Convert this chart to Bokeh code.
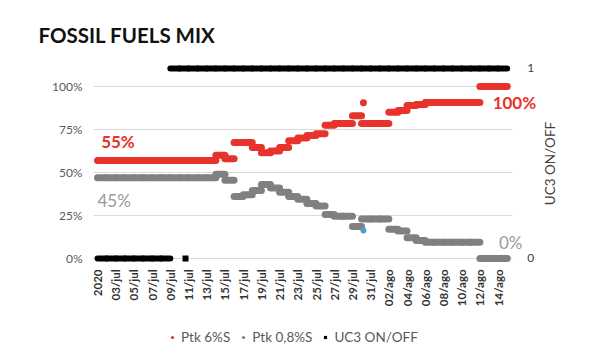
import numpy as np
import pandas as pd
from math import pi
from bokeh.plotting import figure
from bokeh.layouts import column
from bokeh.models import (Range1d, FixedTicker, NumeralTickFormatter,
                          Legend, LegendItem, Label, ColumnDataSource)
from bokeh.core.properties import value
from bokeh.embed import file_html
from bokeh.resources import INLINE

# ---------------- data ----------------
dates = pd.date_range("2020-07-01", periods=45, freq="D")

ptk6 = [0.57, 0.57, 0.57, 0.57, 0.57, 0.57, 0.57, 0.57, 0.57, 0.57,
        0.57, 0.57, 0.57, 0.60, 0.58, 0.675, 0.675, 0.645, 0.615, 0.625,
        0.645, 0.685, 0.70, 0.715, 0.725, 0.775, 0.785, 0.785, 0.83, 0.785,
        0.785, 0.785, 0.85, 0.86, 0.89, 0.895, 0.907, 0.907, 0.907, 0.907,
        0.907, 0.907, 1.0, 1.0, 1.0]

ptk08 = [0.47, 0.47, 0.47, 0.47, 0.47, 0.47, 0.47, 0.47, 0.47, 0.47,
         0.47, 0.47, 0.47, 0.49, 0.455, 0.36, 0.37, 0.395, 0.43, 0.41,
         0.385, 0.36, 0.345, 0.32, 0.305, 0.255, 0.245, 0.245, 0.186, 0.23,
         0.23, 0.23, 0.17, 0.16, 0.12, 0.105, 0.095, 0.095, 0.095, 0.095,
         0.095, 0.095, 0.0, 0.0, 0.0]

uc3 = [0, 0, 0, 0, 0, 0, 0, 0, 1, 1,
       1, 1, 1, 1, 1, 1, 1, 1, 1, 1,
       1, 1, 1, 1, 1, 1, 1, 1, 1, 1,
       1, 1, 1, 1, 1, 1, 1, 1, 1, 1,
       1, 1, 1, 1, 1]

# isolated readings
ptk6_extra_time = ["2020-07-30 05:00"]
ptk6_extra_val = [0.905]
ptk08_extra_time = ["2020-07-30 05:00"]
ptk08_extra_val = [0.163]
uc3_extra_time = ["2020-07-10 16:00"]
uc3_extra_val = [0]

tick_labels = ["2020", "03/jul", "05/jul", "07/jul", "09/jul", "11/jul", "13/jul",
               "15/jul", "17/jul", "19/jul", "21/jul", "23/jul", "25/jul", "27/jul",
               "29/jul", "31/jul", "02/ago", "04/ago", "06/ago", "08/ago", "10/ago",
               "12/ago", "14/ago"]
left_ticks = [0, 0.25, 0.5, 0.75, 1.0]
right_ticks = [0, 1]
right_tick_labels = ["0", "1"]
legend_labels = ["Ptk 6%S", "Ptk 0,8%S", "UC3 ON/OFF"]

# ---------------- helpers ----------------
DAY = 86400000.0
def ms(ts):
    return (pd.DatetimeIndex(ts).as_unit("ns").asi8 // 10**6).astype(float)

x0 = ms(dates)
x1 = x0 + DAY
base = x0[0]
tick_ms = list(x0[::2])

RED = "#e8322c"
GRAY = "#808080"
BLACK = "#000000"
FONT = "Lato"

X_START = base - 0.44 * DAY          # left edge of the plotting area
X_PLOT_END = base + 45.6 * DAY       # right edge of the gridlines
X_END = base + 53.6 * DAY            # right edge incl. right-hand annotations

p = figure(width=592, height=322, x_axis_type="datetime",
           x_range=Range1d(X_START, X_END),
           y_range=Range1d(-0.035, 1.151),
           output_backend="svg", toolbar_location=None,
           min_border_left=93, min_border_right=7,
           min_border_top=60, min_border_bottom=58)
p.extra_y_ranges = {"uc3": Range1d(-0.0316, 1.042)}
p.outline_line_color = None
p.background_fill_color = "white"

# title
p.title.text = "FOSSIL FUELS MIX"
p.title.text_font = FONT
p.title.text_font_size = "20.5px"
p.title.text_font_style = "bold"
p.title.text_color = "#111111"
p.title.align = "left"
p.title.offset = -55
p.title.standoff = 28

# axes
xa = p.xaxis[0]
xa.ticker = FixedTicker(ticks=tick_ms)
xa.major_label_overrides = {t: l for t, l in zip(tick_ms, tick_labels)}
xa.major_label_orientation = pi / 2
xa.axis_line_color = None
xa.major_tick_line_color = None
xa.minor_tick_line_color = None
xa.major_tick_out = 0
xa.minor_tick_out = 0
xa.major_label_text_font = FONT
xa.major_label_text_font_size = "11.5px"
xa.major_label_text_font_style = "bold"
xa.major_label_text_color = "#333333"
xa.major_label_standoff = 5

ya = p.yaxis[0]
ya.ticker = FixedTicker(ticks=left_ticks)
ya.formatter = NumeralTickFormatter(format="0%")
ya.axis_line_color = None
ya.major_tick_line_color = None
ya.minor_tick_line_color = None
ya.major_tick_out = 0
ya.minor_tick_out = 0
ya.major_label_text_font = FONT
ya.major_label_text_font_size = "12px"
ya.major_label_text_color = "#595959"
ya.major_label_standoff = 11

p.grid.visible = False

# gridlines limited to the plotting area
p.segment(x0=[X_START] * len(left_ticks), y0=left_ticks,
          x1=[X_PLOT_END] * len(left_ticks), y1=left_ticks,
          line_color="#d9d9d9", line_width=1)

# right-hand (UC3) scale labels
p.text(x=[base + 47.2 * DAY] * len(right_ticks), y=right_ticks, text=right_tick_labels,
       y_range_name="uc3", text_font=value(FONT), text_font_size="12px",
       text_color="#404040", text_baseline="middle", text_align="left")
p.text(x=[base + 49.66 * DAY], y=[0.552], text=["UC3 ON/OFF"], angle=pi / 2,
       text_font=value(FONT), text_font_size="13.5px", text_color="#404040",
       text_align="center", text_baseline="middle")

# series
src_r = ColumnDataSource(dict(x0=x0, x1=x1, y=ptk6))
src_g = ColumnDataSource(dict(x0=x0, x1=x1, y=ptk08))
src_u = ColumnDataSource(dict(x0=x0, x1=x1, y=uc3))

p.segment("x0", "y", "x1", "y", source=src_u, line_color=BLACK, line_width=6,
          line_cap="round", y_range_name="uc3")
p.segment("x0", "y", "x1", "y", source=src_g, line_color=GRAY, line_width=7,
          line_cap="round")
p.segment("x0", "y", "x1", "y", source=src_r, line_color=RED, line_width=7,
          line_cap="round")

p.scatter(ms(ptk08_extra_time), ptk08_extra_val, marker="circle", size=6,
          fill_color="#4f9fd0", line_color=None)
p.scatter(ms(ptk6_extra_time), ptk6_extra_val, marker="circle", size=7,
          fill_color=RED, line_color=None)
p.scatter(ms(uc3_extra_time), uc3_extra_val, marker="square", size=6,
          fill_color=BLACK, line_color=None, y_range_name="uc3")

# annotations
p.add_layout(Label(x=base + 0.4 * DAY, y=0.68, text="55%", text_color=RED,
                   text_font=FONT, text_font_size="17px", text_font_style="bold",
                   text_baseline="middle"))
p.add_layout(Label(x=base + 0.0 * DAY, y=0.337, text="45%", text_color="#9a9a9a",
                   text_font=FONT, text_font_size="17px",
                   text_baseline="middle"))
p.add_layout(Label(x=base + 43.4 * DAY, y=0.907, text="100%", text_color=RED,
                   text_font=FONT, text_font_size="17px", text_font_style="bold",
                   text_baseline="middle"))
p.add_layout(Label(x=base + 44.1 * DAY, y=0.093, text="0%", text_color="#9a9a9a",
                   text_font=FONT, text_font_size="17px",
                   text_baseline="middle"))

# ---------------- legend strip ----------------
# (its frame is aligned with the chart frame by the column layout)
lg = figure(width=592, height=40, output_backend="svg", toolbar_location=None,
            min_border_left=93, min_border_right=7, min_border_top=0,
            min_border_bottom=0,
            x_range=Range1d(0, 1), y_range=Range1d(0, 1),
            x_axis_location=None, y_axis_location=None)
lg.grid.visible = False
lg.outline_line_color = None
# legend proxies: positioned outside the visible range of the strip
lr = lg.scatter(x=[-5], y=[-5], marker="circle", size=7, fill_color=RED, line_color=None)
lgr = lg.scatter(x=[-5], y=[-5], marker="circle", size=5, fill_color=GRAY, line_color=None)
lu = lg.scatter(x=[-5], y=[-5], marker="square", size=5, fill_color=BLACK, line_color=None)
legend = Legend(items=[LegendItem(label=legend_labels[0], renderers=[lr]),
                       LegendItem(label=legend_labels[1], renderers=[lgr]),
                       LegendItem(label=legend_labels[2], renderers=[lu])],
                orientation="horizontal", location=(75, 17),
                label_text_font=FONT, label_text_font_size="13.5px",
                label_text_color="#595959", glyph_width=8, glyph_height=10,
                label_height=10, label_standoff=5, spacing=9,
                border_line_color=None, background_fill_alpha=0,
                margin=0, padding=3)
lg.add_layout(legend, "center")

layout = column(p, lg, spacing=0)
open("out.html", "w").write(file_html(layout, INLINE))
